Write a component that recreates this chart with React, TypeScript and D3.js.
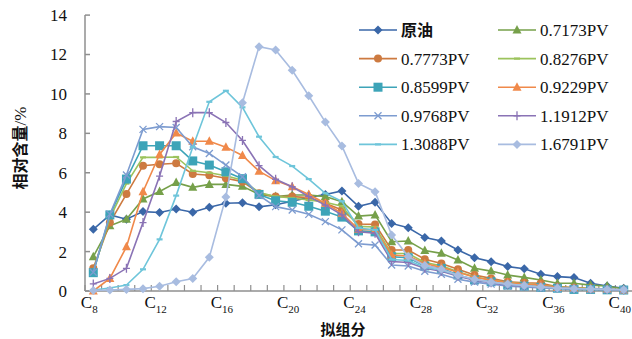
import React from "react";
import * as d3 from "d3";

const categories = ["C8","C9","C10","C11","C12","C13","C14","C15","C16","C17","C18","C19","C20","C21","C22","C23","C24","C25","C26","C27","C28","C29","C30","C31","C32","C33","C34","C35","C36","C37","C38","C39","C40"];
const labeledCategories = ["C8","C12","C16","C20","C24","C28","C32","C36","C40"];
const yTicks = [0, 2, 4, 6, 8, 10, 12, 14];

const seriesNames = ["原油","0.7173PV","0.7773PV","0.8276PV","0.8599PV","0.9229PV","0.9768PV","1.1912PV","1.3088PV","1.6791PV"];

const yuanyou = [3.13,3.86,3.64,4.03,3.98,4.16,4.0,4.25,4.45,4.48,4.27,4.38,4.55,4.75,4.9,5.08,4.3,4.5,3.43,3.21,2.71,2.54,2.08,1.69,1.49,1.24,1.13,0.85,0.73,0.68,0.39,0.25,0.14];
const pv7173 = [1.74,3.31,3.64,4.67,5.05,5.5,5.26,5.41,5.41,5.31,4.9,4.79,4.87,4.87,4.79,4.53,3.8,3.86,2.5,2.54,2.05,1.91,1.57,1.15,1.01,0.81,0.69,0.56,0.39,0.39,0.3,0.25,0.1];
const pv7773 = [1.15,3.47,4.92,6.36,6.43,6.48,5.94,5.87,5.72,5.55,4.96,4.79,4.79,4.74,4.45,4.11,3.4,3.38,2.08,2.08,1.61,1.4,1.1,0.81,0.64,0.47,0.42,0.39,0.22,0.17,0.14,0.1,0.05];
const pv8276 = [1.0,3.7,5.45,6.78,6.78,6.8,6.1,6.0,5.85,5.62,5.0,4.8,4.72,4.62,4.5,4.3,3.28,3.25,1.9,1.9,1.45,1.28,0.98,0.72,0.56,0.43,0.36,0.3,0.2,0.15,0.12,0.08,0.05];
const pv8599 = [0.93,3.86,5.68,7.37,7.37,7.37,6.6,6.39,6.05,5.7,4.9,4.58,4.5,4.3,4.05,3.75,3.05,3.0,1.74,1.69,1.27,1.15,0.81,0.56,0.47,0.3,0.25,0.19,0.14,0.08,0.08,0.06,0.05];
const pv9229 = [0.0,0.64,2.24,5.04,6.93,8.02,7.6,7.6,7.3,6.88,6.08,5.6,5.29,4.9,4.45,3.94,3.13,3.1,1.83,1.78,1.4,1.2,0.95,0.7,0.55,0.42,0.35,0.3,0.18,0.14,0.1,0.08,0.05];
const pv9768 = [0.95,3.9,5.89,8.2,8.34,8.3,7.32,6.98,6.39,5.8,4.85,4.28,4.11,3.89,3.52,3.1,2.4,2.33,1.32,1.27,1.0,0.85,0.6,0.45,0.35,0.25,0.2,0.15,0.12,0.1,0.08,0.06,0.05];
const pv11912 = [0.36,0.64,1.15,3.47,5.83,8.6,9.05,9.05,8.55,7.64,6.36,5.67,5.29,4.79,4.36,3.86,3.01,2.93,1.5,1.45,1.15,1.0,0.75,0.55,0.42,0.3,0.25,0.2,0.15,0.12,0.1,0.08,0.05];
const pv13088 = [0.05,0.15,0.3,1.1,2.62,4.84,7.3,9.6,10.16,9.32,7.83,6.8,6.34,5.68,4.96,4.55,3.2,3.1,1.6,1.55,1.2,1.05,0.8,0.6,0.45,0.35,0.28,0.2,0.15,0.12,0.1,0.08,0.06];
const pv16791 = [0.03,0.05,0.08,0.12,0.24,0.47,0.63,1.71,4.77,9.55,12.4,12.23,11.2,9.91,8.57,7.36,5.46,5.04,2.84,1.75,1.3,1.1,0.8,0.6,0.45,0.35,0.28,0.2,0.15,0.12,0.1,0.08,0.06];

const seriesValues = [yuanyou, pv7173, pv7773, pv8276, pv8599, pv9229, pv9768, pv11912, pv13088, pv16791];
const seriesColors = ["#3A67A8","#76A04A","#CD7A40","#9CC35D","#3DA4B8","#F0894A","#7D9CD0","#8A73B5","#6EC5DA","#A8BCE0"];
const seriesMarkers = ["diamond","triangle","circle","dash","square","triangle","x","plus","dash","diamond"];

const W = 632, H = 339;
const left = 85, right = 632, top = 15.1, bottom = 291;

function Marker({ type, x, y, color }: { type: string; x: number; y: number; color: string }) {
  switch (type) {
    case "diamond":
      return <path d={`M${x},${y - 4.5}L${x + 4.5},${y}L${x},${y + 4.5}L${x - 4.5},${y}Z`} fill={color} />;
    case "triangle":
      return <path d={`M${x},${y - 5}L${x + 4.5},${y + 3.5}L${x - 4.5},${y + 3.5}Z`} fill={color} />;
    case "circle":
      return <circle cx={x} cy={y} r={4} fill={color} />;
    case "square":
      return <rect x={x - 4.5} y={y - 4.5} width={9} height={9} fill={color} />;
    case "dash":
      return <line x1={x - 3} x2={x + 3} y1={y} y2={y} stroke={color} strokeWidth={2.2} />;
    case "x":
      return <path d={`M${x - 3.5},${y - 3.5}L${x + 3.5},${y + 3.5}M${x - 3.5},${y + 3.5}L${x + 3.5},${y - 3.5}`} stroke={color} strokeWidth={1.3} />;
    case "plus":
      return <path d={`M${x},${y - 4.5}L${x},${y + 4.5}M${x - 3.5},${y}L${x + 3.5},${y}`} stroke={color} strokeWidth={1.3} />;
    default:
      return null;
  }
}

export default function App() {
  const x = d3.scaleBand<string>().domain(categories).range([left, right]).padding(0);
  const y = d3.scaleLinear().domain([0, 14]).range([bottom, top]);
  const cx = (c: string) => (x(c) as number) + x.bandwidth() / 2;
  const line = d3.line<number>().x((_, i) => cx(categories[i])).y((v) => y(v));
  const axisColor = "#8f8f8f";
  const serif = "'Liberation Serif', 'Times New Roman', serif";
  const cjk = "'Noto Sans CJK SC', sans-serif";

  const legendX0 = [359, 498];
  const legendY0 = 30;
  const legendDy = 28.6;

  return (
    <svg width={W} height={H} style={{ position: "absolute", left: 0, top: 0, background: "#fff" }}>
      {/* y axis */}
      <line x1={left} x2={left} y1={top} y2={bottom} stroke={axisColor} strokeWidth={1.5} />
      {yTicks.map((t) => (
        <g key={"yt" + t}>
          <line x1={left} x2={left + 5} y1={y(t)} y2={y(t)} stroke={axisColor} strokeWidth={1.5} />
          <text x={67} y={y(t)} dy="0.35em" textAnchor="end" fontFamily={serif} fontSize={17} fill="#111">{t}</text>
        </g>
      ))}
      {/* x axis */}
      <line x1={left} x2={right} y1={bottom} y2={bottom} stroke={axisColor} strokeWidth={1.5} />
      {categories.map((c) => (
        <line key={"xt" + c} x1={x(c) as number} x2={x(c) as number} y1={bottom} y2={bottom - 6} stroke={axisColor} strokeWidth={1.2} />
      ))}
      {labeledCategories.map((c) => (
        <text key={"xl" + c} x={cx(c) - 4} y={308} textAnchor="middle" fontFamily={serif} fontSize={17} fill="#111">
          C<tspan fontSize={11} dy={5}>{c.slice(1)}</tspan>
        </text>
      ))}
      {/* axis titles */}
      <text x={343} y={335} textAnchor="middle" fontFamily={cjk} fontWeight="bold" fontSize={15} fill="#111">拟组分</text>
      <text transform={`translate(26,148) rotate(-90)`} textAnchor="middle" fontSize={16} fill="#111">
        <tspan fontFamily={cjk} fontWeight="bold">相对含量</tspan>
        <tspan fontFamily={serif} fontSize={17}>/%</tspan>
      </text>
      {/* series */}
      {seriesValues.map((vals, si) => (
        <g key={"s" + si}>
          <path d={line(vals) as string} fill="none" stroke={seriesColors[si]} strokeWidth={1.6} />
          {vals.map((v, i) => (
            <Marker key={i} type={seriesMarkers[si]} x={cx(categories[i])} y={y(v)} color={seriesColors[si]} />
          ))}
        </g>
      ))}
      {/* legend */}
      {seriesNames.map((name, i) => {
        const col = i % 2;
        const row = Math.floor(i / 2);
        const lx = legendX0[col];
        const ly = legendY0 + row * legendDy;
        const isCjk = /[\u4e00-\u9fff]/.test(name);
        return (
          <g key={"lg" + i}>
            <line x1={lx} x2={lx + 38} y1={ly} y2={ly} stroke={seriesColors[i]} strokeWidth={1.6} />
            <Marker type={seriesMarkers[i]} x={lx + 19} y={ly} color={seriesColors[i]} />
            <text x={lx + 42} y={ly} dy="0.35em" fontFamily={isCjk ? cjk : serif} fontWeight={isCjk ? "bold" : "normal"} fontSize={isCjk ? 16 : 17} fill="#111">{name}</text>
          </g>
        );
      })}
    </svg>
  );
}
